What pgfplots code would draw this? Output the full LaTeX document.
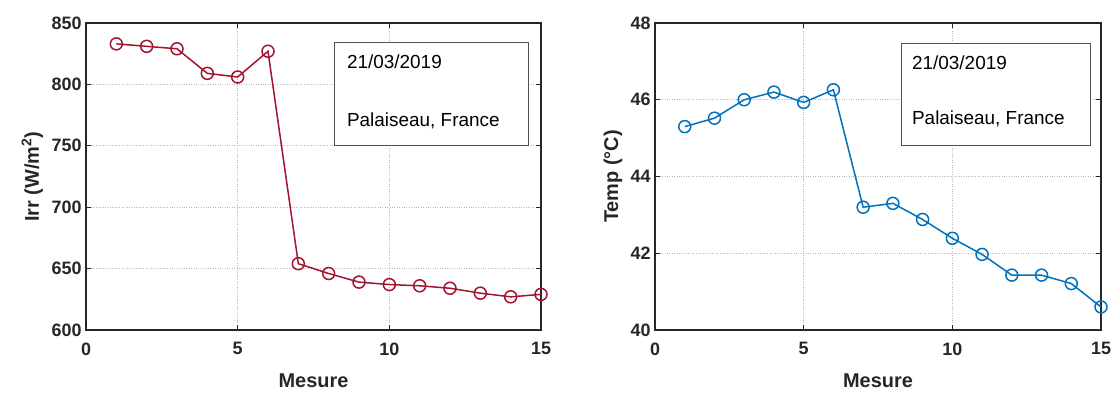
\documentclass[border=0pt]{standalone}
\usepackage{pgfplots}
\pgfplotsset{compat=1.18}
\usepackage{fontspec}
\setmainfont{Liberation Sans}
\definecolor{mred}{HTML}{A2142F}
\definecolor{mblue}{HTML}{0072BD}
\definecolor{axc}{HTML}{262626}
\pgfplotsset{
  mstyle/.style={
    scale only axis,
    width=455bp, height=307bp,
    xmin=0, xmax=15, xtick={0,5,10,15},
    axis line style={axc, line width=1.3bp},
    tick style={axc, line width=1bp},
    major tick length=5bp,
    tick align=inside,
    grid=major,
    major grid style={gray!55, dotted, line width=0.8bp},
    ticklabel style={font=\fontsize{18}{21}\selectfont\bfseries, text=axc},
    xticklabel style={yshift=-9bp},
    yticklabel style={xshift=-1bp},
    /pgf/number format/assume math mode=true,
    label style={font=\fontsize{20}{24}\selectfont\bfseries, text=axc},
    xlabel={Mesure},
    xlabel style={at={(axis description cs:0.5,-0.13)}, anchor=north},
    axis background/.style={fill=white},
  }
}
\begin{document}
\begin{tikzpicture}
\useasboundingbox (0bp,0bp) rectangle (1115bp,396bp);
\begin{axis}[mstyle, at={(86bp,66bp)}, anchor=south west,
  ymin=600, ymax=850, ytick={600,650,...,850},
  ylabel={Irr (W/m$^{\mathbf{2}}$)}, ylabel style={at={(axis description cs:-0.118,0.5)}, anchor=center}]
\addplot[mred, line width=1.5bp, mark=o, mark size=6bp, mark options={line width=1.5bp}] coordinates {
(1,833) (2,831) (3,829) (4,809) (5,806) (6,827) (7,654) (8,646) (9,639) (10,637) (11,636) (12,634) (13,630) (14,627) (15,629)};
\draw[axc!80, fill=white, line width=0.8bp] (axis cs:8.2,750.6) rectangle (axis cs:14.6,834.5);
\node[anchor=west, font=\fontsize{19}{22}\selectfont, inner sep=0pt] at (axis cs:8.6,818.2) {21/03/2019};
\node[anchor=west, font=\fontsize{19}{22}\selectfont, inner sep=0pt] at (axis cs:8.6,770.2) {Palaiseau, France};
\end{axis}
\begin{axis}[mstyle, at={(655bp,66bp)}, anchor=south west, width=446bp,
  ymin=40, ymax=48, ytick={40,42,...,48},
  ylabel={Temp (°C)}, ylabel style={at={(axis description cs:-0.094,0.5)}, anchor=center}]
\addplot[mblue, line width=1.5bp, mark=o, mark size=6bp, mark options={line width=1.5bp}] coordinates {
(1,45.3) (2,45.52) (3,46.0) (4,46.2) (5,45.93) (6,46.26) (7,43.2) (8,43.3) (9,42.88) (10,42.39) (11,41.97) (12,41.43) (13,41.43) (14,41.21) (15,40.6)};
\draw[axc!80, fill=white, line width=0.8bp] (axis cs:8.27,44.8) rectangle (axis cs:14.65,47.48);
\node[anchor=west, font=\fontsize{19}{22}\selectfont, inner sep=0pt] at (axis cs:8.64,46.96) {21/03/2019};
\node[anchor=west, font=\fontsize{19}{22}\selectfont, inner sep=0pt] at (axis cs:8.64,45.5) {Palaiseau, France};
\end{axis}
\end{tikzpicture}
\end{document}
